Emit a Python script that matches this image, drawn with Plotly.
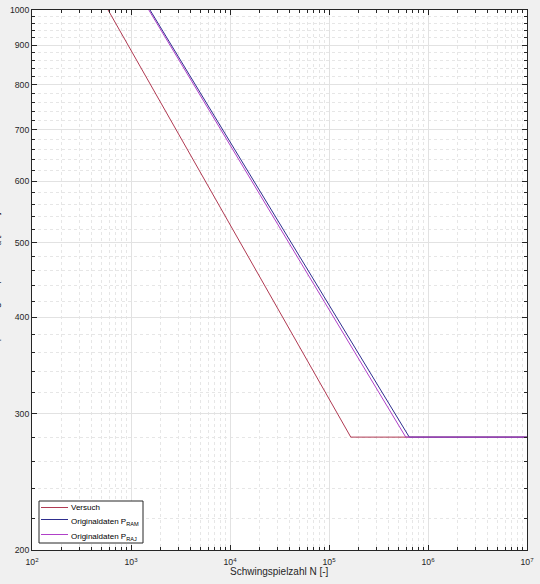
import numpy as np
import plotly.graph_objects as go

# S-N curves: (N at top edge 1000, N at knee, end N) and stresses
versuch_N = [587, 1.66e5, 1e7]
versuch_S = [1000, 280, 280]
ram_N = [1556, 6.47e5, 1e7]
ram_S = [1000, 280, 280]
raj_N = [1514, 5.96e5, 1e7]
raj_S = [1000, 280, 280]

series_names = ["Versuch", "Originaldaten P<sub>RAM</sub>", "Originaldaten P<sub>RAJ</sub>"]
series_colors = ["#b03a52", "#2e2e8e", "#b040c8"]

x_major = [1e2, 1e3, 1e4, 1e5, 1e6, 1e7]
x_labels = ["10<sup>2</sup>", "10<sup>3</sup>", "10<sup>4</sup>", "10<sup>5</sup>", "10<sup>6</sup>", "10<sup>7</sup>"]
y_major = [200, 300, 400, 500, 600, 700, 800, 900, 1000]
y_labels = ["200", "300", "400", "500", "600", "700", "800", "900", "1000"]
x_title = "Schwingspielzahl N [-]"
y_title = "Spannungsamplitude σ<sub>a</sub> [MPa]"

x_minor = [m * 10 ** e for e in range(2, 7) for m in range(2, 10)]
y_minor = [v for v in range(220, 1000, 20) if v % 100 != 0]

fig = go.Figure()
for xs, ys, nm, col in zip([versuch_N, ram_N, raj_N], [versuch_S, ram_S, raj_S],
                           series_names, series_colors):
    fig.add_trace(go.Scatter(x=xs, y=ys, mode="lines", name=nm,
                             line=dict(color=col, width=1), showlegend=False))

axcol = "#262626"
fnt = "Liberation Sans, Arial"
common = dict(type="log", showline=True, linecolor=axcol, linewidth=1, mirror="allticks",
              ticks="inside", ticklen=5, tickcolor=axcol, showgrid=True,
              gridcolor="#e2e2e2", gridwidth=1, zeroline=False, automargin=False,
              tickfont=dict(family=fnt, size=8.7, color=axcol))

fig.update_xaxes(range=[2, 7], tickmode="array", tickvals=x_major, ticktext=x_labels,
                 ticklabelstandoff=4,
                 minor=dict(tickmode="array", tickvals=x_minor, ticks="inside", ticklen=3,
                            tickcolor=axcol, showgrid=True, gridcolor="#e6e6e6", griddash="dot"),
                 **common)
fig.update_yaxes(range=[np.log10(200), 3], tickmode="array", tickvals=y_major, ticktext=y_labels,
                 minor=dict(tickmode="array", tickvals=y_minor, ticks="inside", ticklen=3,
                            tickcolor=axcol, showgrid=True, gridcolor="#e6e6e6", griddash="dot"),
                 **common)

PL, PW, PT, PH = 32, 495, 10, 540
def px(x):
    return (x - PL) / PW
def py(y):
    return (PT + PH - y) / PH

# x-axis title
fig.add_annotation(text=x_title, xref="paper", yref="paper", x=0.5, y=py(571),
                   xanchor="center", yanchor="middle", showarrow=False,
                   font=dict(family=fnt, size=10, color=axcol))

# y-axis label (mostly outside the visible window, as in the reference)
fig.add_annotation(text=y_title, xref="paper", yref="paper",
                   x=0, y=0.5, xanchor="right", yanchor="middle", textangle=-90,
                   xshift=-28, showarrow=False,
                   font=dict(family=fnt, size=10, color=axcol))

# legend box (drawn manually to match the compact MATLAB legend)
fig.add_shape(type="rect", xref="paper", yref="paper", x0=px(39), x1=px(143), y0=py(543), y1=py(501),
              line=dict(color=axcol, width=1), fillcolor="white", layer="above")
leg_y = [507.5, 519.5, 534.5]
for ly, nm, col in zip(leg_y, series_names, series_colors):
    fig.add_shape(type="line", xref="paper", yref="paper", x0=px(41), x1=px(68), y0=py(ly), y1=py(ly),
                  line=dict(color=col, width=1), layer="above")
    fig.add_annotation(text=nm, xref="paper", yref="paper", x=px(69), y=py(ly),
                       xanchor="left", yanchor="middle", showarrow=False,
                       yshift=(0 if nm == "Versuch" else -2),
                       font=dict(family=fnt, size=8, color="#000000"))

fig.update_layout(
    width=540, height=584,
    margin=dict(l=32, r=13, t=10, b=34, autoexpand=False),
    paper_bgcolor="#f0f0f0", plot_bgcolor="white",
    font=dict(family=fnt, size=10, color=axcol),
    showlegend=False,
)

fig.write_html("out.html", config={"displayModeBar": False},
               post_script="document.body.style.margin='0';document.body.style.background='#f0f0f0';")
